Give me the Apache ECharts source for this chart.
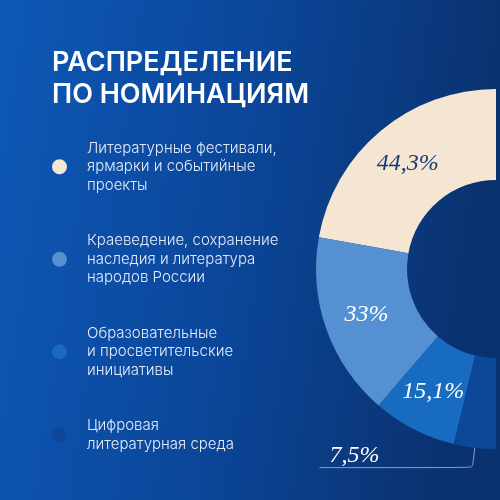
<!DOCTYPE html>
<html>
<head>
<meta charset="utf-8">
<script src="https://cdn.jsdelivr.net/npm/echarts@6/dist/echarts.min.js"></script>
<style>
  html, body { margin: 0; padding: 0; }
  #chart { width: 500px; height: 500px; }
</style>
</head>
<body>
<div id="chart"></div>
<script>
// номинации и доли, %
var categories = [
    "Литературные фестивали,\nярмарки и событийные\nпроекты",
    "Краеведение, сохранение\nнаследия и литература\nнародов России",
    "Образовательные\nи просветительские\nинициативы",
    "Цифровая\nлитературная среда"
];
var shares = [44.3, 33, 15.1, 7.5];
var colors = ["#f5e5d3", "#5591d2", "#176bc0", "#0c4897"];
var labelColors = ["#163a78", "#ffffff", "#ffffff", "#ffffff"];

function fmtShare(v) {
    return String(v).replace(".", ",") + "%";
}

var chart = echarts.init(document.getElementById("chart"));

var pieData = [];
categories.forEach(function (name, i) {
    var item = {
        name: name,
        value: shares[i],
        itemStyle: { color: colors[i] },
        label: { color: labelColors[i] }
    };
    // последняя доля подписана снаружи, над выноской
    if (i === categories.length - 1) {
        item.label = {
            position: "outside",
            color: "#ffffff",
            distanceToLabelLine: -60,
            lineHeight: 24,
            formatter: function (p) {
                return fmtShare(p.value) + "\n ";
            }
        };
        item.labelLine = {
            show: true,
            length: 20,
            length2: 153,
            smooth: 0.1,
            lineStyle: { color: "rgba(220,230,245,0.6)", width: 1 }
        };
    }
    pieData.push(item);
});

var option = {
    backgroundColor: {
        type: "linear",
        x: 0, y: 0, x2: 1, y2: 0.15,
        colorStops: [
            { offset: 0, color: "#0e58b6" },
            { offset: 0.5, color: "#0b479b" },
            { offset: 1, color: "#0a3270" }
        ]
    },
    title: {
        text: "РАСПРЕДЕЛЕНИЕ\nПО НОМИНАЦИЯМ",
        left: 52,
        top: 47,
        padding: 0,
        textStyle: {
            color: "#ffffff",
            fontFamily: "Inter",
            fontWeight: 600,
            fontSize: 27,
            lineHeight: 32
        }
    },
    legend: {
        orient: "vertical",
        left: 52,
        top: 139,
        padding: 0,
        icon: "circle",
        itemWidth: 15,
        itemHeight: 15,
        itemGap: 37,
        selectedMode: false,
        textStyle: {
            color: "#e4ebf6",
            fontFamily: "Inter",
            fontWeight: 300,
            fontSize: 15,
            lineHeight: 18.5,
            padding: [0, 0, 0, 15]
        }
    },
    series: [
        {
            type: "pie",
            center: ["99.2%", "53.8%"],
            radius: [89, 180],
            startAngle: 90,
            endAngle: 270,
            clockwise: false,
            silent: true,
            avoidLabelOverlap: false,
            label: {
                show: true,
                position: "inside",
                fontFamily: "Liberation Serif",
                fontStyle: "italic",
                fontSize: 24,
                formatter: function (p) {
                    return fmtShare(p.value);
                }
            },
            labelLine: { show: false },
            data: pieData
        }
    ]
};

chart.setOption(option);
</script>
</body>
</html>
